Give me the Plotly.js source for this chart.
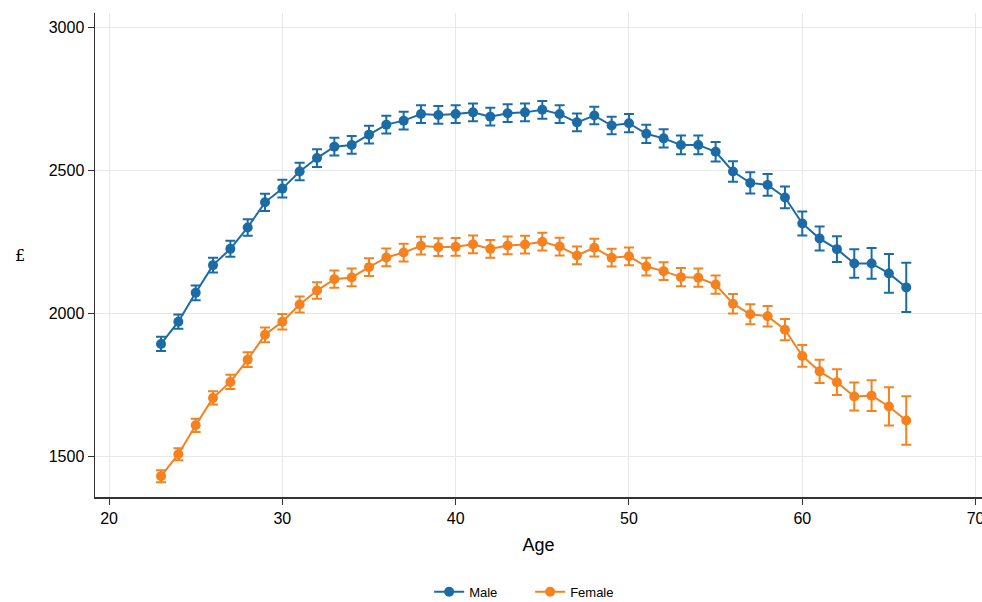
<!DOCTYPE html>
<html>
<head>
<meta charset="utf-8">
<script src="https://cdn.plot.ly/plotly-3.0.1.min.js"></script>
<style>html,body{margin:0;padding:0;background:#fff;}#chart{width:982px;height:602px;}</style>
</head>
<body>
<div id="chart"></div>
<script>
const ages = [23,24,25,26,27,28,29,30,31,32,33,34,35,36,37,38,39,40,41,42,43,44,45,46,47,48,49,50,51,52,53,54,55,56,57,58,59,60,61,62,63,64,65,66];
const maleValues = [1893,1971,2072,2169,2226,2301,2389,2437,2497,2544,2584,2590,2626,2661,2675,2698,2695,2698,2704,2689,2701,2704,2713,2698,2669,2693,2658,2666,2629,2613,2590,2590,2566,2497,2457,2450,2406,2315,2262,2225,2175,2175,2140,2091];
const maleErr = [25,25,26,26,28,29,30,31,31,31,31,31,31,31,31,31,31,31,31,31,31,31,31,31,31,31,31,32,32,32,33,33,34,36,37,38,38,42,42,45,50,54,68,86];
const femaleValues = [1430,1507,1608,1704,1760,1838,1925,1971,2031,2080,2120,2126,2162,2196,2213,2237,2232,2233,2242,2226,2238,2241,2251,2234,2203,2230,2195,2200,2164,2148,2127,2125,2101,2034,1997,1990,1943,1851,1797,1759,1709,1712,1674,1625];
const femaleErr = [21,21,23,23,25,26,26,27,28,29,30,31,31,31,31,31,31,31,31,31,31,31,31,31,31,31,31,31,31,31,32,32,32,34,35,36,37,38,41,45,49,54,67,85];
const seriesNames = ["Male","Female"];
const xTicks = [20,30,40,50,60,70];
const yTicks = [1500,2000,2500,3000];

const blue = "#1b6ca6";
const orange = "#f5821f";

function trace(name, y, err, color){
  return {
    x: ages, y: y, name: name, type: "scatter", mode: "lines+markers",
    line: {color: color, width: 2},
    marker: {color: color, size: 10},
    error_y: {type: "data", array: err, visible: true, color: color, thickness: 2, width: 5}
  };
}

const data = [
  trace(seriesNames[0], maleValues, maleErr, blue),
  trace(seriesNames[1], femaleValues, femaleErr, orange)
];

const font = {family: "Liberation Sans, Arial, sans-serif", color: "#000"};

const layout = {
  width: 982, height: 602,
  margin: {l: 95, r: 0, t: 13, b: 105, autoexpand: false},
  paper_bgcolor: "#fff", plot_bgcolor: "#fff",
  font: Object.assign({size: 15}, font),
  showlegend: true,
  legend: {orientation: "h", xref: "container", yref: "container",
           x: 0.437, xanchor: "left", y: 0.017, yanchor: "middle",
           entrywidth: 56, entrywidthmode: "pixels",
           font: {size: 13, family: font.family, color: "#000"}, itemwidth: 30},
  xaxis: {
    range: [19.19, 70.37], tickvals: xTicks, ticktext: xTicks.map(String),
    ticklabeloverflow: "allow",
    showgrid: true, gridcolor: "#e8e8e8", gridwidth: 1,
    showline: true, linecolor: "#333", linewidth: 1.5,
    ticks: "outside", ticklen: 6, tickcolor: "#333", tickwidth: 1,
    tickfont: {size: 16}, zeroline: false,
    title: {text: "Age", font: {size: 18}, standoff: 12}
  },
  yaxis: {
    range: [1357, 3052], tickvals: yTicks, ticktext: yTicks.map(String),
    showgrid: true, gridcolor: "#e8e8e8", gridwidth: 1,
    showline: true, linecolor: "#333", linewidth: 1.5,
    ticks: "outside", ticklen: 6, tickcolor: "#333", tickwidth: 1,
    tickfont: {size: 16}, zeroline: false
  },
  annotations: [{
    text: "£", xref: "paper", yref: "paper", x: -0.085, y: 0.5, showarrow: false,
    xanchor: "center", yanchor: "middle",
    font: {size: 16, family: "DejaVu Serif, Liberation Serif, serif", color: "#000"}
  }]
};

Plotly.newPlot("chart", data, layout, {displayModeBar: false, staticPlot: true});
</script>
</body>
</html>
